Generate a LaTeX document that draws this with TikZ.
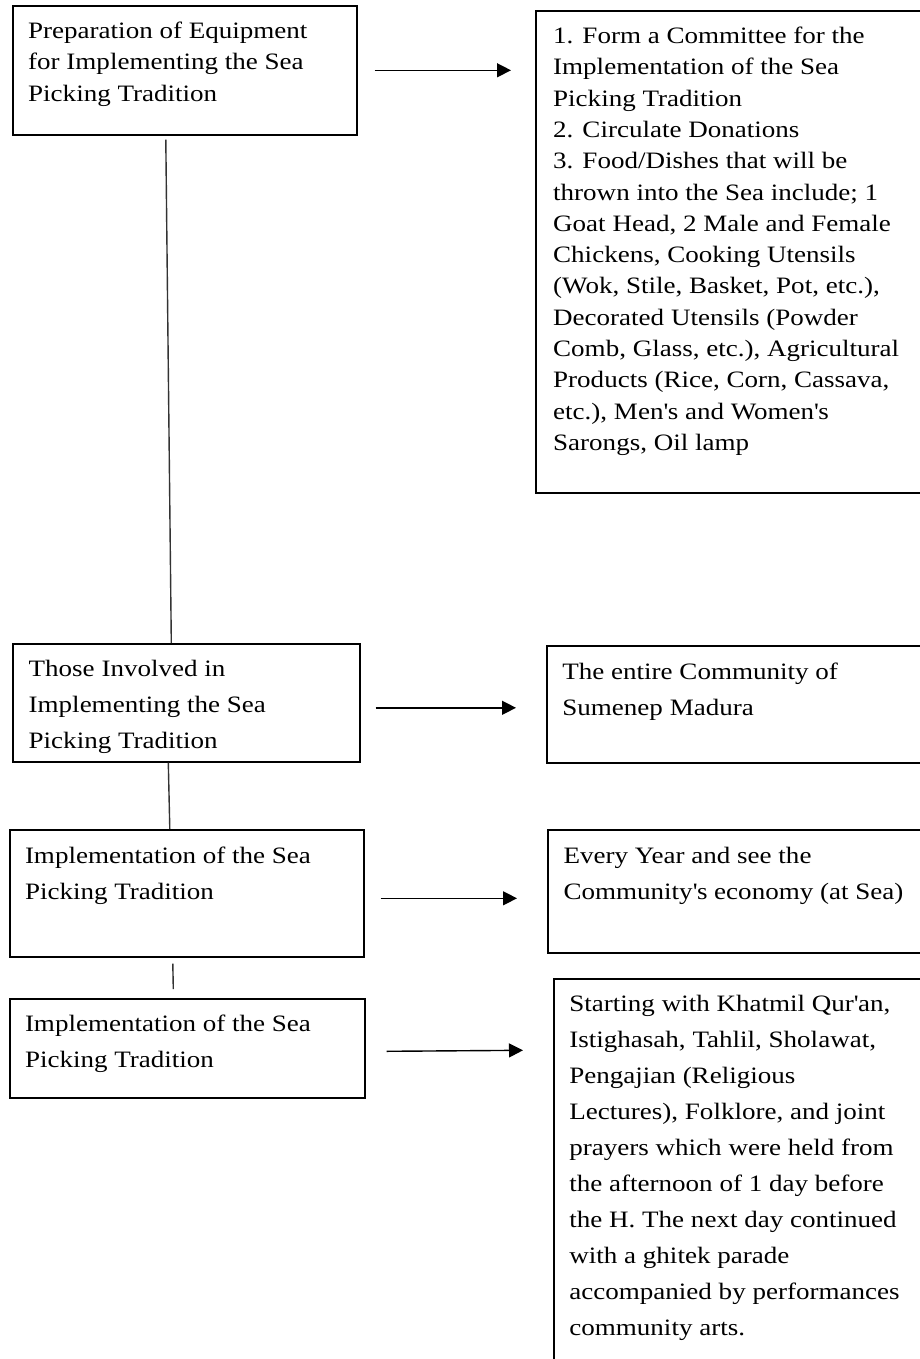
\documentclass[tikz,border=0pt]{standalone}
\usepackage{fontspec}
\setmainfont{Liberation Serif}[FakeStretch=1.15]
\usetikzlibrary{arrows.meta}

\tikzset{
  box/.style={draw, line width=1.6pt, anchor=north west, inner sep=0pt},
  txt/.style={anchor=north west, inner sep=0pt, align=left, font=\fontsize{23.5}{31.3}\selectfont},
  txtl/.style={txt, font=\fontsize{23.5}{36}\selectfont},
  arr/.style={-{Triangle[length=14pt,width=14pt]}, line width=1.4pt},
  link/.style={line width=1.4pt, black!80},
}

\begin{document}
\begin{tikzpicture}[x=1pt, y=-1pt]
%\draw[help lines, color=gray!30, dashed] (0,0) grid[step=50] (920,1359);
\useasboundingbox (0,0) rectangle (920,1359);
\clip (0,0) rectangle (920,1359);
\node[box, minimum width=344, minimum height=129] (prep) at (12,5) {};
\node[box, minimum width=405, minimum height=482] (steps) at (535,10) {};
\node[box, minimum width=347, minimum height=118] (invol) at (12,643) {};
\node[box, minimum width=400, minimum height=117] (commun) at (546,645) {};
\node[box, minimum width=354, minimum height=127] (impl) at (9,829) {};
\node[box, minimum width=400, minimum height=123] (yearly) at (547,829) {};
\node[box, minimum width=355, minimum height=99] (implb) at (9,998) {};
\node[box, minimum width=400, minimum height=420] (events) at (553,978) {};
\node[txt] (prept) at ([shift={(16,11.4)}]prep.north west) {\strut Preparation of Equipment\\for Implementing the Sea\\Picking Tradition};
\node[txt] (stepst) at ([shift={(18,11.4)}]steps.north west) {\strut 1. Form a Committee for the\\Implementation of the Sea\\Picking Tradition\\2. Circulate Donations\\3. Food/Dishes that will be\\thrown into the Sea include; 1\\Goat Head, 2 Male and Female\\Chickens, Cooking Utensils\\(Wok, Stile, Basket, Pot, etc.),\\Decorated Utensils (Powder\\Comb, Glass, etc.), Agricultural\\Products (Rice, Corn, Cassava,\\etc.), Men\textquotesingle s and Women\textquotesingle s\\Sarongs, Oil lamp};
\node[txtl] (involt) at ([shift={(16.5,8.2)}]invol.north west) {\strut Those Involved in\\Implementing the Sea\\Picking Tradition};
\node[txtl] (communt) at ([shift={(16.2,9.1)}]commun.north west) {\strut The entire Community of\\Sumenep Madura};
\node[txtl] (implt) at ([shift={(15.8,8.8)}]impl.north west) {\strut Implementation of the Sea\\Picking Tradition};
\node[txtl] (yearlyt) at ([shift={(16.4,8.8)}]yearly.north west) {\strut Every Year and see the\\Community\textquotesingle s economy (at Sea)};
\node[txtl] (implbt) at ([shift={(15.8,8.2)}]implb.north west) {\strut Implementation of the Sea\\Picking Tradition};
\node[txtl] (eventst) at ([shift={(16.2,8.2)}]events.north west) {\strut Starting with Khatmil Qur\textquotesingle an,\\Istighasah, Tahlil, Sholawat,\\Pengajian (Religious\\Lectures), Folklore, and joint\\prayers which were held from\\the afternoon of 1 day before\\the H. The next day continued\\with a ghitek parade\\accompanied by performances\\community arts.};
\draw[arr] ([xshift=17]prep.east) -- ([xshift=-24]prep.east -| steps.west);
\draw[arr] ([shift={(15,5)}]invol.east) -- ([shift={(-30,5)}]invol.east -| commun.west);
\draw[arr] ([shift={(16,5)}]impl.east) -- ([shift={(-30,5)}]impl.east -| yearly.west);
\draw[arr] ([shift={(21,3)}]implb.east) -- ([shift={(-30,2)}]implb.east -| events.west);
\draw[link] ([shift={(-19,4)}]prep.south) -- ([xshift=-15]invol.north);
\draw[link] ([xshift=-18]invol.south) -- ([xshift=-17]impl.north);
\draw[link] ([shift={(-14,6)}]impl.south) -- ([shift={(-14,-9)}]implb.north);
\end{tikzpicture}
\end{document}
